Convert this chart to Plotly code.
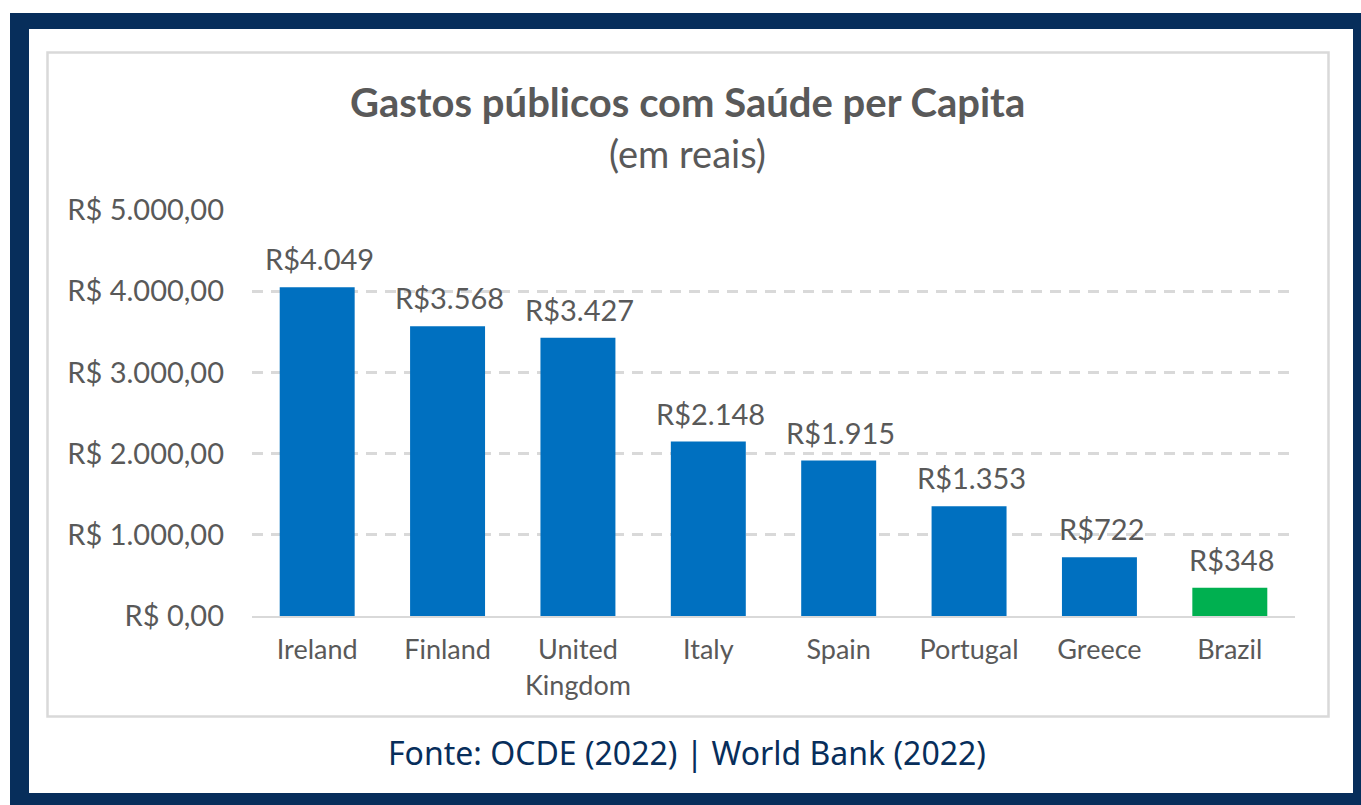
import plotly.graph_objects as go

categories = ["Ireland", "Finland", "United<br>Kingdom", "Italy", "Spain", "Portugal", "Greece", "Brazil"]
values = [4049, 3568, 3427, 2148, 1915, 1353, 722, 348]
value_labels = ["R$4.049", "R$3.568", "R$3.427", "R$2.148", "R$1.915", "R$1.353", "R$722", "R$348"]
bar_colors = ["#0070C0"] * 7 + ["#00B050"]
tick_vals = [0, 1000, 2000, 3000, 4000, 5000]
tick_text = ["R$ 0,00", "R$ 1.000,00", "R$ 2.000,00", "R$ 3.000,00", "R$ 4.000,00", "R$ 5.000,00"]

NAVY = "#072E5B"
GRAY = "#595959"
FONT = "Lato"
W, H = 1361, 805

fig = go.Figure()
fig.add_trace(go.Bar(
    x=categories, y=values,
    marker=dict(color=bar_colors, line=dict(width=0)),
    width=0.575,
    hoverinfo="skip",
))

for c, v, t in zip(categories, values, value_labels):
    fig.add_annotation(x=c, y=v, text=t, showarrow=False, yanchor="bottom",
                       yshift=9, xshift=2, font=dict(family=FONT, size=29, color=GRAY))


def px_rect(x0, y0, x1, y1, **kw):
    return dict(type="rect", xref="paper", yref="paper",
                x0=(x0 - 252) / (1295 - 252), x1=(x1 - 252) / (1295 - 252),
                y0=(616 - y1) / (616 - 210), y1=(616 - y0) / (616 - 210), **kw)


shapes = [
    px_rect(10, 13, 1361, 29, line=dict(width=0), fillcolor=NAVY, layer="below"),
    px_rect(10, 793, 1361, 805, line=dict(width=0), fillcolor=NAVY, layer="below"),
    px_rect(10, 13, 29, 805, line=dict(width=0), fillcolor=NAVY, layer="below"),
    px_rect(1353, 13, 1361, 805, line=dict(width=0), fillcolor=NAVY, layer="below"),
    px_rect(47.5, 52.5, 1328.5, 716.5, line=dict(width=2.5, color="#D9D9D9"),
            fillcolor="rgba(0,0,0,0)", layer="below"),
]


def px_ann(x, y, text, size, color, family=FONT):
    return dict(xref="paper", yref="paper",
                x=(x - 252) / (1295 - 252), y=(616 - y) / (616 - 210),
                text=text, showarrow=False, xanchor="center", yanchor="middle",
                font=dict(family=family, size=size, color=color))


annotations = [
    px_ann(687, 102, "<b>Gastos públicos com Saúde per Capita</b>", 40, GRAY),
    px_ann(687, 153, "(em reais)", 38, GRAY),
    px_ann(687, 752, "Fonte: OCDE (2022) | World Bank (2022)", 32, NAVY, "Noto Sans"),
]
for a in annotations:
    fig.add_annotation(**a)

fig.update_layout(
    width=W, height=H,
    margin=dict(l=252, r=66, t=210, b=189, pad=0),
    paper_bgcolor="white", plot_bgcolor="rgba(0,0,0,0)",
    showlegend=False,
    bargap=0.425,
    shapes=shapes,
    font=dict(family=FONT, color=GRAY),
)
fig.update_yaxes(
    range=[0, 5000], tickvals=tick_vals, ticktext=tick_text,
    showgrid=True, gridcolor="#D9D9D9", gridwidth=2.5, griddash="11px,8px",
    zeroline=False, showline=False, ticks="",
    tickfont=dict(family=FONT, size=29, color=GRAY),
    ticklabelstandoff=27,
)
fig.update_xaxes(
    showline=True, linecolor="#D9D9D9", linewidth=2, ticks="",
    tickfont=dict(family=FONT, size=27, color=GRAY),
    ticklabelstandoff=9,
)

fig.write_html("out.html")
